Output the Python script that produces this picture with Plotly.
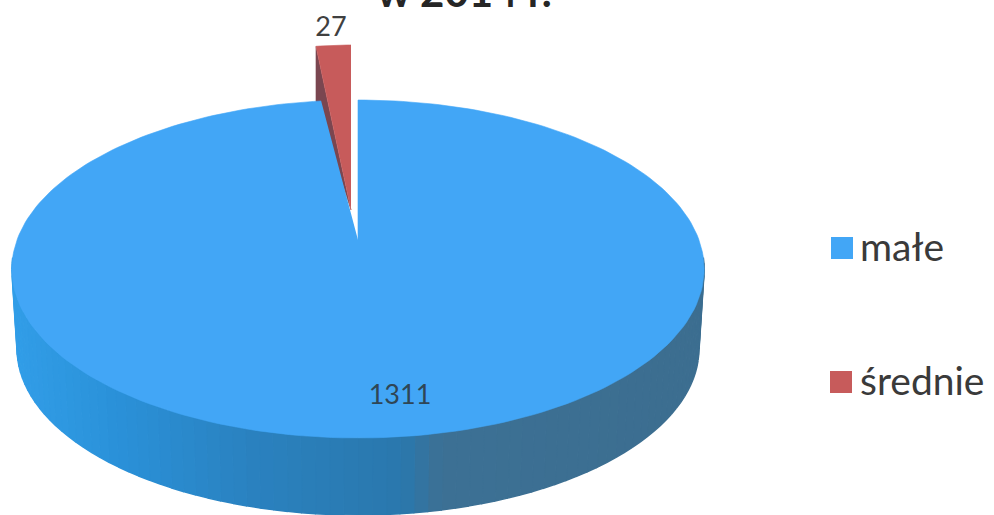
import math
import plotly.graph_objects as go

categories = ['małe', 'średnie']
values = [1311, 27]
title_tail = 'w 2014 r.'

blue = '#42A6F6'
red = '#C75B5B'
red_dark = '#7A4650'

# pie geometry (page pixels), top face is a circle seen in perspective
cx, cy = 358, 240
a, b, k = 341, 164, 0.1716
depth, shrink = 80, 0.985
# the exploded slice sits further back
red_x, red_y, red_rx, red_ry = 351, 210, 277, 165


def project(theta, dy=0, s=1.0):
    t = math.radians(theta)
    d = 1 + k * math.cos(t)
    return cx + s * a * math.sin(t) / d, cy + dy - s * b * math.cos(t) / d


def wall_color(x):
    stops = [(12, (50, 158, 232)), (110, (43, 146, 218)), (250, (42, 130, 192)),
             (405, (43, 120, 173)), (440, (60, 113, 149)), (705, (61, 110, 144))]
    for (x0, c0), (x1, c1) in zip(stops, stops[1:]):
        if x <= x1:
            f = max(0, (x - x0) / (x1 - x0))
            return 'rgb(%d,%d,%d)' % tuple(c0[i] + f * (c1[i] - c0[i]) for i in range(3))
    return 'rgb(61,110,144)'


def poly(xs, ys, color, width=0.6):
    return go.Scatter(x=xs, y=ys, mode='lines', fill='toself', fillcolor=color,
                      line=dict(color=color, width=width), hoverinfo='skip', showlegend=False)


total = sum(values)
blue_angle = 360 * values[0] / total
red_angle = 360 * values[1] / total

fig = go.Figure()

# red slice, inner wall first then top face
end_x = red_x + red_rx * math.sin(math.radians(-red_angle))
end_y = red_y - red_ry * math.cos(math.radians(-red_angle))
fig.add_trace(poly([end_x, end_x, red_x], [end_y, end_y + 55, red_y], red_dark))
arc = [-red_angle + red_angle * i / 8 for i in range(9)]
rx_pts = [red_x + red_rx * math.sin(math.radians(t)) for t in arc]
ry_pts = [red_y - red_ry * math.cos(math.radians(t)) for t in arc]
fig.add_trace(poly([red_x] + rx_pts, [red_y] + ry_pts, red))

# outer wall of the blue slice, cut in strips for the shading
step = 2
for t in range(96, 264, step):
    x0, y0 = project(t)
    x1, y1 = project(t + step)
    x2, y2 = project(t + step, depth, shrink)
    x3, y3 = project(t, depth, shrink)
    fig.add_trace(poly([x0, x1, x2, x3], [y0, y1, y2, y3], wall_color((x0 + x1) / 2), 1.5))

# blue top face
n = 240
pts = [project(blue_angle * i / n) for i in range(n + 1)]
fig.add_trace(poly([cx] + [p[0] for p in pts], [cy] + [p[1] for p in pts], blue))

# data labels
fig.add_trace(go.Scatter(x=[331, 400], y=[29, 397], mode='text',
                         text=[str(values[1]), str(values[0])],
                         textfont=dict(family='Lato', size=[27, 27], color=['#404040', '#2f4656']),
                         hoverinfo='skip', showlegend=False))

# legend keys and names
fig.add_trace(go.Scatter(x=[842, 841], y=[248, 382], mode='markers',
                         marker=dict(symbol='square', size=22, color=[blue, red]),
                         hoverinfo='skip', showlegend=False))
fig.add_trace(go.Scatter(x=[860, 860], y=[251, 385], mode='text',
                         text=categories, textposition='middle right',
                         textfont=dict(family='Lato', size=39, color='#3a3a3a'),
                         hoverinfo='skip', showlegend=False, cliponaxis=False))

fig.update_layout(
    width=994, height=515, margin=dict(l=0, r=0, t=0, b=0),
    paper_bgcolor='white', plot_bgcolor='white', showlegend=False,
    xaxis=dict(range=[0, 994], visible=False, fixedrange=True),
    yaxis=dict(range=[515, 0], visible=False, fixedrange=True),
    annotations=[dict(text='<b>%s</b>' % title_tail, x=464, y=18, xref='x', yref='y',
                      xanchor='center', yanchor='bottom', showarrow=False,
                      font=dict(family='Lato', size=42, color='#262626'))],
)

fig.write_html("out.html", config=dict(displayModeBar=False),
               post_script="document.body.style.margin='0';document.body.style.overflow='hidden';")
